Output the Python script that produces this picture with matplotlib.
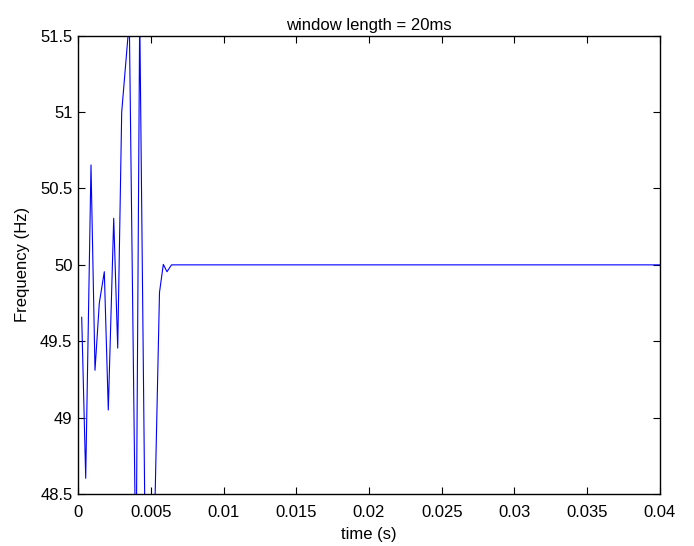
import numpy as np
import matplotlib
matplotlib.use("Agg")
import matplotlib.pyplot as plt

plt.rcParams['font.family'] = ['Liberation Sans', 'DejaVu Sans']

# frequency estimate, window length 20ms
t = [0.000254, 0.000529, 0.000893, 0.001168, 0.001464, 0.001808, 0.002082,
     0.002454, 0.002729, 0.003003, 0.003526, 0.003986, 0.004241, 0.004591,
     0.004928, 0.005258, 0.005601, 0.005863, 0.006117, 0.006426, 0.04]
freq = [49.657, 48.603, 50.654, 49.31, 49.75, 49.955, 49.05,
        50.305, 49.455, 51.0, 51.6, 47.9, 51.65, 48.4,
        48.35, 48.3, 49.82, 50.003, 49.955, 50.0, 50.0]

xticks = [0, 0.005, 0.01, 0.015, 0.02, 0.025, 0.03, 0.035, 0.04]
xtick_labels = ['0', '0.005', '0.01', '0.015', '0.02', '0.025', '0.03', '0.035', '0.04']
yticks = [48.5, 49, 49.5, 50, 50.5, 51, 51.5]
ytick_labels = ['48.5', '49', '49.5', '50', '50.5', '51', '51.5']

fig = plt.figure(figsize=(6.94, 5.46), dpi=100)
ax = fig.add_axes([0.1124, 0.0952, 0.8386, 0.8394])

ax.plot(t, freq, color=(0, 0, 1), lw=0.8)

ax.set_xlim(0, 0.04)
ax.set_ylim(48.5, 51.5)
ax.set_xticks(xticks)
ax.set_xticklabels(xtick_labels)
ax.set_yticks(yticks)
ax.set_yticklabels(ytick_labels)
ax.tick_params(direction='in', top=True, right=True, length=5, width=0.8,
               labelsize=12)
ax.tick_params(axis='x', pad=8)
ax.tick_params(axis='y', pad=4)
for s in ax.spines.values():
    s.set_linewidth(1.0)

ax.set_title('window length = 20ms', fontsize=12, pad=4)
ax.set_xlabel('time (s)', fontsize=12, labelpad=5)
ax.set_ylabel('Frequency (Hz)', fontsize=12, labelpad=7)

fig.savefig('out.png', dpi=100)
